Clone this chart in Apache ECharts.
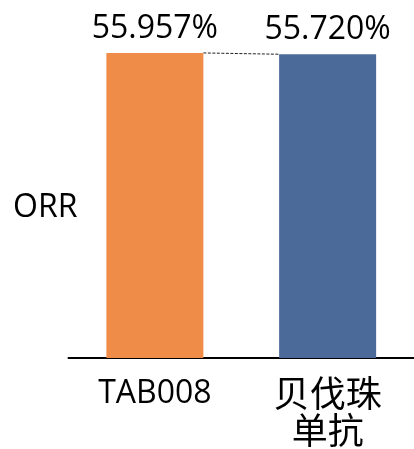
<!DOCTYPE html>
<html>
<head>
<meta charset="utf-8">
<script src="https://cdn.jsdelivr.net/npm/echarts@6/dist/echarts.min.js"></script>
<style>
  html, body { margin: 0; padding: 0; background: #fff; }
  #chart { width: 414px; height: 449px; }
</style>
</head>
<body>
<div id="chart"></div>
<script>
// ORR by treatment arm
const categories = ['TAB008', '贝伐珠\n单抗'];
const orrValues = [55.957, 55.720];
const valueLabels = ['55.957%', '55.720%'];
const barColors = ['#EF8C48', '#4C6A99'];

const BAR_WIDTH = 97;
const FONT = '"Open Sans", "Noto Sans CJK SC", sans-serif';

const chart = echarts.init(document.getElementById('chart'));

chart.setOption({
  animation: false,
  backgroundColor: '#fff',
  grid: { left: 68.5, right: -2.5, top: 20, bottom: 90 },
  xAxis: {
    type: 'category',
    data: categories,
    axisLine: { lineStyle: { color: '#000', width: 2 } },
    axisTick: { show: false },
    axisLabel: {
      interval: 0,
      margin: 17,
      color: '#000',
      fontFamily: FONT,
      fontSize: 32,
      lineHeight: 37,
      formatter: function (v) {
        if (/[\u4e00-\u9fff]/.test(v)) {
          return v.split('\n').map(function (s) { return '{cn|' + s + '}'; }).join('\n');
        }
        return v;
      },
      rich: {
        cn: { fontSize: 36, lineHeight: 37, fontFamily: '"Noto Sans CJK SC", sans-serif', color: '#000' }
      }
    }
  },
  yAxis: {
    type: 'value',
    min: 0,
    max: 62,
    axisLine: { show: false },
    axisTick: { show: false },
    axisLabel: { show: false },
    splitLine: { show: false }
  },
  graphic: [{
    type: 'text',
    left: 13,
    top: 192,
    style: { text: 'ORR', font: '32px ' + FONT, fill: '#000' }
  }],
  series: [
    {
      type: 'bar',
      barWidth: BAR_WIDTH,
      data: orrValues.map(function (v, i) {
        return { value: v, itemStyle: { color: barColors[i] } };
      }),
      label: {
        show: true,
        position: 'top',
        distance: 8,
        color: '#000',
        fontFamily: FONT,
        fontSize: 32,
        formatter: function (p) { return valueLabels[p.dataIndex]; }
      }
    },
    {
      // dashed connector between the two bar tops
      type: 'custom',
      silent: true,
      data: [[0, orrValues[0], 1, orrValues[1]]],
      renderItem: function (params, api) {
        const a = api.coord([api.value(0), api.value(1)]);
        const b = api.coord([api.value(2), api.value(3)]);
        return {
          type: 'line',
          shape: { x1: a[0] + BAR_WIDTH / 2, y1: a[1], x2: b[0] - BAR_WIDTH / 2, y2: b[1] },
          style: { stroke: '#222', lineWidth: 1, lineDash: [3, 1.5] }
        };
      }
    }
  ]
});
</script>
</body>
</html>
